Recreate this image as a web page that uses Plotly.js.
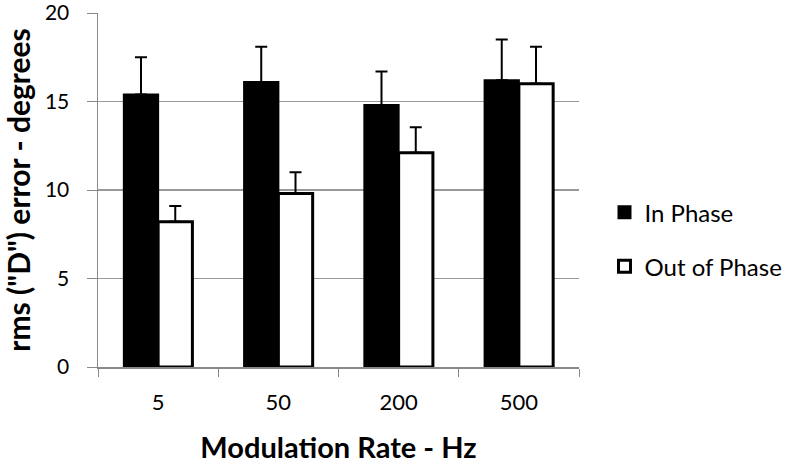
<!DOCTYPE html>
<html><head><meta charset="utf-8">
<script src="https://cdn.plot.ly/plotly-3.0.1.min.js"></script>
<style>html,body{margin:0;padding:0;background:#fff}#chart{width:800px;height:464px}</style>
</head><body><div id="chart"></div>
<script>
const categories = ["5", "50", "200", "500"];
const inPhase = [15.4, 16.1, 14.8, 16.2];
const inPhaseErr = [2.1, 2.0, 1.9, 2.3];
const outPhase = [8.2, 9.8, 12.1, 16.0];
const outPhaseErr = [0.9, 1.2, 1.45, 2.1];
const yTicks = [0, 5, 10, 15, 20];

const font = "Lato, 'Open Sans', sans-serif";
const traces = [
  {type: "bar", name: "In Phase", x: categories, y: inPhase, legendgroup: "a",
   marker: {color: "#000", line: {color: "#000", width: 2}},
   error_y: {type: "data", array: inPhaseErr, symmetric: false, arrayminus: inPhaseErr.map(()=>0), color: "#000", thickness: 2, width: 6}},
  {type: "bar", name: "Out of Phase", x: categories, y: outPhase, legendgroup: "b",
   marker: {color: "#fff", line: {color: "#000", width: 3}},
   error_y: {type: "data", array: outPhaseErr, symmetric: false, arrayminus: outPhaseErr.map(()=>0), color: "#000", thickness: 2, width: 6}}
];
const layout = {
  width: 800, height: 464,
  margin: {l: 98, r: 212, t: 13, b: 97},
  paper_bgcolor: "#fff", plot_bgcolor: "#fff",
  barmode: "group", bargap: 0.43, bargroupgap: 0,
  font: {family: font, color: "#000"},
  showlegend: true,
  legend: {x: 1.053, y: 0.36, xanchor: "left", yanchor: "middle", traceorder: "grouped", tracegroupgap: 20,
           itemwidth: 30, font: {size: 24, family: font, color: "#000"}},
  xaxis: {type: "category", tickson: "boundaries", ticks: "outside", ticklen: 8, tickcolor: "#888",
          showline: true, linecolor: "#888", linewidth: 1.5, showgrid: false, ticklabelstandoff: 15,
          tickfont: {size: 22, family: font},
          title: {text: "<b>Modulation Rate - Hz</b>", font: {size: 29, family: font}, standoff: 28}},
  yaxis: {range: [0, 20], tickvals: yTicks, ticks: "outside", ticklen: 10, tickcolor: "#888",
          showline: true, linecolor: "#888", linewidth: 1.5, showgrid: true, gridcolor: "#999", gridwidth: 1.5,
          zeroline: false, tickfont: {size: 21, family: font}, ticklabelstandoff: 13, ticklabeloverflow: "allow",
          title: {text: "<b>rms (\"D\") error - degrees</b>", font: {size: 30, family: font}, standoff: 6}}
};
Plotly.newPlot("chart", traces, layout, {displayModeBar: false, staticPlot: true});
</script></body></html>
